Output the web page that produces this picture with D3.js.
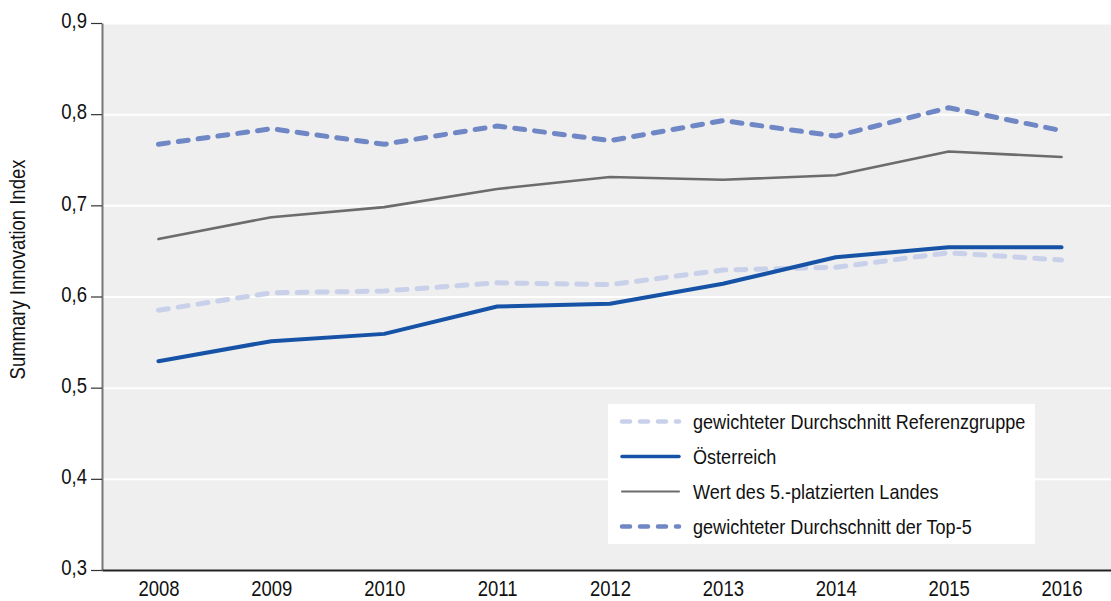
<!DOCTYPE html>
<html lang="de">
<head>
<meta charset="UTF-8" />
<title>Summary Innovation Index</title>
<script src="https://d3js.org/d3.v7.min.js"></script>
<style>
  body { margin: 0; background: #fff; }
  svg { display: block; font-family: 'Liberation Sans', Arial, sans-serif; }
  .grid line { stroke: #fff; stroke-width: 2; }
  .grid path { stroke-width: 0; }
  .yaxis path { stroke: #777; stroke-width: 2; }
  .yaxis line { stroke: #333; stroke-width: 1.2; }
  .xaxis path { stroke: #222; stroke-width: 2; }
  .xaxis line { stroke: none; }
  .tick text { font-size: 21.5px; fill: #111; }
  text.label { font-size: 21.5px; fill: #111; }
  text.legend { font-size: 21px; fill: #111; }
</style>
</head>
<body>
<svg width="1111" height="601"></svg>
<script>
  // values
  var years = ['2008','2009','2010','2011','2012','2013','2014','2015','2016'];
  var referenz = [0.585, 0.604, 0.606, 0.615, 0.613, 0.629, 0.632, 0.648, 0.640];
  var oesterreich = [0.529, 0.551, 0.559, 0.589, 0.592, 0.614, 0.643, 0.654, 0.654];
  var platz5 = [0.663, 0.687, 0.698, 0.718, 0.731, 0.728, 0.733, 0.759, 0.753];
  var top5 = [0.767, 0.784, 0.767, 0.787, 0.771, 0.793, 0.776, 0.807, 0.782];
  var yTicks = [0.3, 0.4, 0.5, 0.6, 0.7, 0.8, 0.9];

  var series = [
    { name: 'gewichteter Durchschnitt Referenzgruppe', values: referenz, color: '#c9d0ea', width: 5, dash: '10 10' },
    { name: 'Österreich', values: oesterreich, color: '#1653a6', width: 4, dash: null },
    { name: 'Wert des 5.-platzierten Landes', values: platz5, color: '#6c6c6c', width: 2.6, dash: null },
    { name: 'gewichteter Durchschnitt der Top-5', values: top5, color: '#7087c6', width: 5, dash: '10 10' }
  ];

  const svg = d3.select('svg');
  const plotLeft = 102, plotTop = 23, plotRight = 1118, plotBottom = 570;
  const squeeze = 0.86; // the original uses a condensed face

  // shrink text horizontally to look like a condensed font
  function condense(sel) {
    sel.each(function () {
      const w = this.getComputedTextLength();
      this.setAttribute('textLength', (w * squeeze).toFixed(1));
      this.setAttribute('lengthAdjust', 'spacingAndGlyphs');
    });
  }

  const x = d3.scalePoint().domain(years).range([plotLeft, plotRight]).padding(0.5);
  const y = d3.scaleLinear().domain([0.3, 0.9]).range([plotBottom, plotTop]);

  svg.append('rect')
    .attr('x', plotLeft).attr('y', plotTop)
    .attr('width', plotRight - plotLeft).attr('height', plotBottom - plotTop)
    .attr('fill', '#efefef');

  svg.append('g')
    .attr('class', 'grid')
    .attr('transform', `translate(${plotLeft},0)`)
    .call(d3.axisLeft(y).tickValues(yTicks.slice(1)).tickSize(-(plotRight - plotLeft)).tickFormat(''));

  const line = d3.line()
    .x((d, i) => x(years[i]))
    .y(d => y(d));

  series.forEach(s => {
    svg.append('path')
      .datum(s.values)
      .attr('fill', 'none')
      .attr('stroke', s.color)
      .attr('stroke-width', s.width)
      .attr('stroke-linecap', 'round')
      .attr('stroke-linejoin', 'round')
      .attr('stroke-dasharray', s.dash)
      .attr('d', line);
  });

  const yAxis = svg.append('g')
    .attr('class', 'yaxis')
    .attr('transform', `translate(${plotLeft},0)`)
    .call(d3.axisLeft(y).tickValues(yTicks).tickSize(11).tickSizeOuter(0).tickPadding(4)
      .tickFormat(d => d3.format('.1f')(d).replace('.', ',')));
  yAxis.selectAll('text').attr('dy', '0.22em').call(condense);

  const xAxis = svg.append('g')
    .attr('class', 'xaxis')
    .attr('transform', `translate(0,${plotBottom})`)
    .call(d3.axisBottom(x).tickSize(0).tickPadding(11));
  xAxis.selectAll('text').call(condense);

  svg.append('text')
    .attr('class', 'label')
    .attr('transform', `translate(25,${(plotTop + plotBottom) / 2 - 27}) rotate(-90)`)
    .attr('text-anchor', 'middle')
    .text('Summary Innovation Index')
    .call(condense);

  // legend
  const lg = svg.append('g').attr('transform', 'translate(608,404)');
  lg.append('rect').attr('width', 427).attr('height', 140).attr('fill', '#fff');
  series.forEach((s, i) => {
    const yy = 17.5 + i * 35;
    lg.append('line')
      .attr('x1', 14).attr('x2', 71).attr('y1', yy).attr('y2', yy)
      .attr('stroke', s.color)
      .attr('stroke-width', s.width - 0.5)
      .attr('stroke-linecap', 'round')
      .attr('stroke-dasharray', s.dash ? '8 10' : null);
    lg.append('text')
      .attr('class', 'legend')
      .attr('x', 85).attr('y', yy + 7)
      .text(s.name)
      .call(condense);
  });
</script>
</body>
</html>
